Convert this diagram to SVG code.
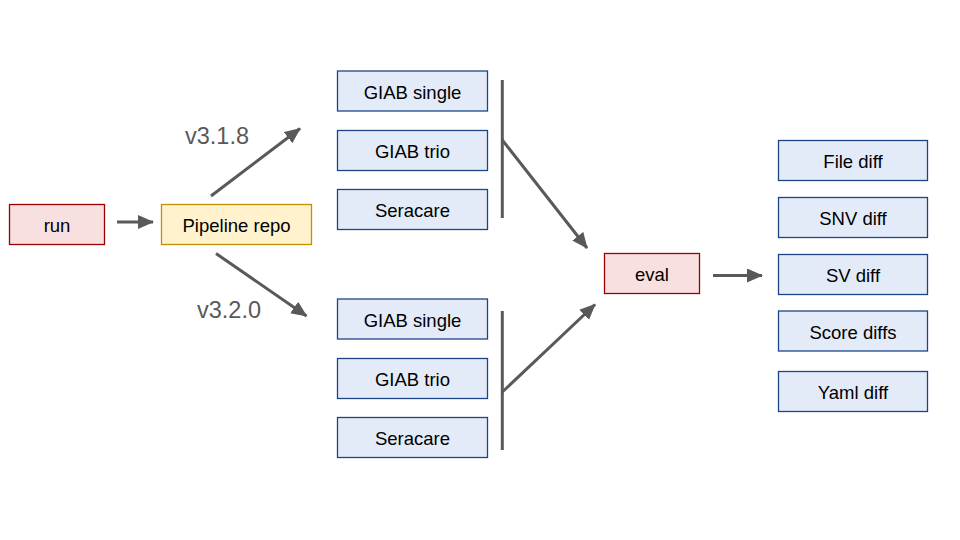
<svg xmlns="http://www.w3.org/2000/svg" width="960" height="540" viewBox="0 0 960 540">
<defs>
<style>
.box rect{stroke-width:1.3}
.red rect{fill:#f9e0e0;stroke:#990000}
.yel rect{fill:#fff2cc;stroke:#bf9000}
.blue rect{fill:#e3ebf8;stroke:#1c4587}
.box text{font-family:"Liberation Sans",Arial,sans-serif;font-size:18.5px;fill:#000;text-anchor:middle}
.lbl{font-family:"Liberation Sans",Arial,sans-serif;font-size:23.5px;fill:#595959}
.conn line{stroke:#595959;stroke-width:3;fill:none}
</style>
<marker id="ah" markerUnits="userSpaceOnUse" markerWidth="18" markerHeight="16" refX="15" refY="7" orient="auto">
<path d="M0,0 L16,7 L0,14 z" fill="#595959"/>
</marker>
</defs>
<rect width="960" height="540" fill="#fff"/>
<g id="run" class="box red"><rect x="9.5" y="204.5" width="95" height="40"/><text x="57" y="232">run</text></g>
<g id="pipeline" class="box yel"><rect x="161.5" y="204.5" width="150" height="40"/><text x="236.5" y="232">Pipeline repo</text></g>
<g id="giab-single-1" class="box blue"><rect x="337.5" y="71" width="150" height="40"/><text x="412.5" y="98.5">GIAB single</text></g>
<g id="giab-trio-1" class="box blue"><rect x="337.5" y="130.5" width="150" height="40"/><text x="412.5" y="158">GIAB trio</text></g>
<g id="seracare-1" class="box blue"><rect x="337.5" y="189.5" width="150" height="40"/><text x="412.5" y="217">Seracare</text></g>
<g id="giab-single-2" class="box blue"><rect x="337.5" y="299" width="150" height="40"/><text x="412.5" y="326.5">GIAB single</text></g>
<g id="giab-trio-2" class="box blue"><rect x="337.5" y="358.5" width="150" height="40"/><text x="412.5" y="386">GIAB trio</text></g>
<g id="seracare-2" class="box blue"><rect x="337.5" y="417.5" width="150" height="40"/><text x="412.5" y="445">Seracare</text></g>
<g id="eval" class="box red"><rect x="604.5" y="253.5" width="95" height="40"/><text x="652" y="281">eval</text></g>
<g id="file-diff" class="box blue"><rect x="778.5" y="140.5" width="149" height="40"/><text x="853" y="168">File diff</text></g>
<g id="snv-diff" class="box blue"><rect x="778.5" y="197.5" width="149" height="40"/><text x="853" y="225">SNV diff</text></g>
<g id="sv-diff" class="box blue"><rect x="778.5" y="254.5" width="149" height="40"/><text x="853" y="282">SV diff</text></g>
<g id="score-diffs" class="box blue"><rect x="778.5" y="311" width="149" height="40"/><text x="853" y="338.5">Score diffs</text></g>
<g id="yaml-diff" class="box blue"><rect x="778.5" y="371.5" width="149" height="40"/><text x="853" y="399">Yaml diff</text></g>
<g id="connectors" class="conn">
<line x1="117" y1="222" x2="153" y2="222" marker-end="url(#ah)"/>
<line x1="211" y1="196" x2="300" y2="128.5" marker-end="url(#ah)"/>
<line x1="216" y1="253.5" x2="306.5" y2="316" marker-end="url(#ah)"/>
<line x1="502.3" y1="80" x2="502.3" y2="218"/>
<line x1="502.3" y1="311" x2="502.3" y2="450"/>
<line x1="502.3" y1="140" x2="587" y2="248" marker-end="url(#ah)"/>
<line x1="502.3" y1="392" x2="595" y2="304.5" marker-end="url(#ah)"/>
<line x1="713" y1="275.5" x2="762" y2="275.5" marker-end="url(#ah)"/>
</g>
<text class="lbl" x="185" y="144">v3.1.8</text>
<text class="lbl" x="197" y="318">v3.2.0</text>
</svg>
